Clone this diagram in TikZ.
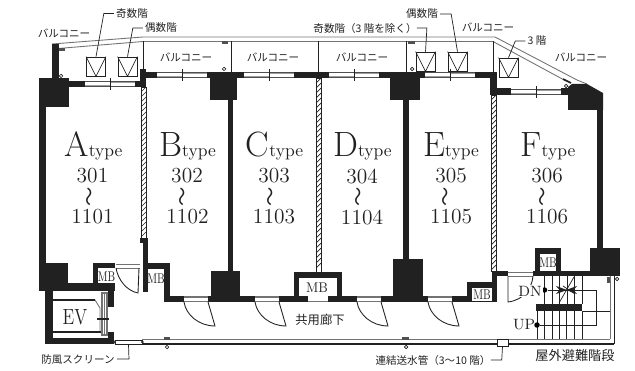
\documentclass[tikz,border=0pt]{standalone}
\usepackage{fontspec}
\usepackage{xcolor}
\usepackage{tikz}
\usetikzlibrary{arrows.meta, positioning}
\newfontfamily\jpfont{Noto Sans CJK JP}
\definecolor{wallblack}{gray}{0.13}
\definecolor{linegray}{gray}{0.45}

\begin{document}
\begin{tikzpicture}[
    x=0.02cm, y=-0.02cm,
    thinline/.style={draw=wallblack, line width=0.4pt},
    grayline/.style={draw=linegray, line width=0.5pt},
    jp/.style={font=\jpfont\fontsize{6}{7}\selectfont, text=wallblack, inner sep=0pt},
    jpmid/.style={font=\jpfont\fontsize{7}{8}\selectfont, text=wallblack, inner sep=0pt},
    jpbig/.style={font=\jpfont\fontsize{7.5}{9}\selectfont, text=wallblack, inner sep=0pt},
    unitname/.style={font=\fontsize{20}{22}\selectfont, text=wallblack, inner sep=0pt, anchor=base},
    roomno/.style={font=\fontsize{12.2}{14}\selectfont, text=wallblack, inner sep=0pt},
    wavemark/.style={font=\jpfont\fontsize{11}{11}\selectfont, text=wallblack, inner sep=0pt, rotate=90},
    mbtext/.style={font=\fontsize{8}{9}\selectfont, text=wallblack, inner sep=0pt, xscale=0.72, transform shape},
    acunit/.style={rectangle, thinline, minimum size=0.38cm, inner sep=0pt},
    smallcircle/.style={circle, draw=wallblack, line width=0.4pt, minimum size=0.07cm, inner sep=0pt},
    blackdot/.style={circle, fill=black, minimum size=0.11cm, inner sep=0pt}
]
\useasboundingbox (0,0) rectangle (635,371);

% Balcony outline
\draw[grayline] (52,44) -- (143,37) -- (495,37) -- (577,80) -- (587,84);
\draw[grayline] (52,49) -- (143,41.5) -- (493,41.5) -- (566,81);
\foreach \x/\y in {143/70, 231/72, 318/72, 406/72, 493/72}
    \draw[thinline] (\x,41.5) -- (\x,\y);

% Walls
\foreach \xa/\ya/\xb/\yb in {52/44/59/78, 39/78/69/107, 39/107/46/263, 39/263/68/291,
    45/291/53/344, 45/338/114/344, 68/283/115/291, 108/291/114/307, 108/332/114/340,
    69/81/85/87, 135/81/143/87, 140/69/146/87, 146/72/157/78, 207/72/244/78,
    210/72/237/100, 294/72/329/78, 378/72/425/78, 390/72/420/100, 475/72/497/78,
    490/72/497/95, 490/88/511/95, 561/88/568/95, 597/110/603/248,
    228/100/233/271, 403/100/409/259,
    140/238/148/243, 143/243/148/292,
    93/263/115/268, 93/263/98/291,
    143/263/170/269, 164/263/170/302,
    164/296/184/302, 208/296/255/302, 211/271/240/302, 279/296/308/302,
    294/272/342/278, 294/272/299/296, 337/272/342/302, 328/296/357/302,
    381/296/428/302, 393/259/423/302, 452/296/472/302,
    467/282/497/288, 467/282/472/302, 492/271/497/302, 467/300.5/497/302,
    497/271/508/276, 533/271/590/276, 535/248/561/254, 535/248/540/276,
    556/248/561/276, 590/248/620/276}
    \fill[wallblack] (\xa,\ya) rectangle (\xb,\yb);
\fill[wallblack] (568,87) -- (572,84) -- (587,84) -- (603,93) -- (603,110) -- (568,110) -- cycle;

% Hatched walls
\foreach \xa/\ya/\xb/\yb in {141/87/146/238, 316/78/321/272, 491/95/496/271} {
    \draw[thinline] (\xa,\ya) rectangle (\xb,\yb);
    \pgfmathsetmacro{\ylast}{\yb-5}
    \pgfmathsetmacro{\ysecond}{\ya+5}
    \foreach \y in {\ya,\ysecond,...,\ylast}
        \draw[thinline] (\xa,\y+5) -- (\xb,\y);
}

% Windows on the balcony side
\foreach \x/\y in {85/81, 157/72, 244/72, 329/72, 425/72, 511/89} {
    \fill[white] (\x,\y) rectangle ++(50,6);
    \fill[wallblack!80] (\x,\y) rectangle ++(50,0.9);
    \fill[wallblack!80] (\x,\y+5.1) rectangle ++(50,0.9);
    \fill[linegray!70] (\x,\y+3.6) rectangle ++(25,1.6);
    \fill[linegray!70] (\x+25,\y+0.8) rectangle ++(25,1.6);
    \draw[wallblack, line width=0.5pt] (\x+25,\y-3) -- ++(0,12);
}

% Door openings in the corridor wall
\foreach \x in {184, 255, 357, 428}
    \draw[grayline, line width=0.9pt] (\x,297) -- ++(24,0) (\x,301.5) -- ++(24,0);
\draw[grayline, line width=0.9pt] (308,301.5) -- (328,301.5);
\draw[grayline] (116,264) -- (140,264) (116,268) -- (140,268);
\draw[grayline] (508,272) -- (533,272) (508,276) -- (533,276);

% Doors
\foreach \x in {184, 255, 357, 428}
    \draw[thinline, line width=0.5pt] (\x,302) .. controls (\x+2,315) and (\x+15,326) .. (\x+31,326) -- (\x+24,302);
\draw[thinline, line width=0.5pt] (116,268) .. controls (118,280) and (127,291) .. (138,293) -- (139,268);
\draw[thinline, line width=0.5pt] (533,276) .. controls (532,288) and (524,300) .. (508,302) -- (508,276);

% EV
\draw[grayline] (53,300) -- (95,300) -- (100,308) -- (100,332) -- (53,332);
\draw[thinline, line width=0.7pt] (53,300) -- (95,300) (53,332) -- (102,332);
\draw[grayline, fill=white, line width=0.7pt] (102,293) rectangle (107,335);
\fill[linegray] (103.5,293) rectangle (105,335);
\draw[thinline, line width=0.7pt] (97,319) -- (109,319);
\node[font=\fontsize{12.5}{14}\selectfont, text=wallblack, inner sep=0pt, xscale=0.8, transform shape] (ev) at (75,317) {EV};

% Stairs
\foreach \x in {544, 552, 559, 567, 574, 582}
    \draw[wallblack, line width=0.5pt] (\x,276) -- (\x,304);
\foreach \x in {537, 544, 552, 559, 566, 574, 582}
    \draw[wallblack, line width=0.5pt] (\x,311) -- (\x,339);
\fill[wallblack] (536,304) rectangle (582,311);

% Outer walkway
\draw[grayline] (142,339) -- (610,339);
\draw[wallblack, line width=0.7pt] (115,344) -- (614,344);
\draw[grayline] (610,276) -- (610,339);
\draw[wallblack, line width=0.5pt] (614,276) -- (614,344);
\draw[wallblack, line width=0.5pt] (582,311) -- (610,311);

% Screen and standpipe box
\node[rectangle, draw=wallblack, fill=white, line width=0.4pt, minimum width=0.54cm, minimum height=0.08cm, inner sep=0pt] (screen) at (128.5,342) {};
\node[smallcircle, fill=white, minimum size=0.04cm] (screenl) at (screen.west) {};
\node[smallcircle, fill=white, minimum size=0.04cm] (screenr) at (screen.east) {};
\node[rectangle, draw=wallblack, fill=white, line width=0.5pt, minimum width=0.22cm, minimum height=0.14cm, inner sep=0pt] (pipebox) at (502.5,342.5) {};

% Small pipe shafts and drains
\foreach \x/\y in {62/49.5, 225/42.5, 411.5/42.5, 167/338.5, 405.5/338.5}
    \fill[linegray!70!black] (\x-3.3,\y-1.6) rectangle (\x+3.3,\y+1.6);
\fill[linegray!70!black] (607,277) rectangle (610,283);
\draw[wallblack, line width=0.9pt] (563,79) -- (571,83);
\foreach \x/\y in {61/76, 224/69, 412/69, 566/86, 617/279, 167/347, 406/347}
    \node[smallcircle] at (\x,\y) {};

% Outdoor units
\node[acunit] (ac1) at (96,66.5) {};
\node[acunit] (ac2) at (127.5,66.5) {};
\node[acunit] (ac3) at (425.5,61.5) {};
\node[acunit] (ac4) at (457.5,61.5) {};
\node[acunit] (ac5) at (508.5,67.5) {};
\foreach \n in {ac1, ac2, ac3, ac4, ac5}
    \draw[thinline] (\n.north west) -- (\n.south) -- (\n.north east);

% Unit names and room numbers
\foreach \n/\l/\x in {1/A/93.5, 2/B/187.5, 3/C/274.5, 4/D/362.5, 5/E/451, 6/F/548}
    \node[unitname] (type\n) at (\x,157) {\l{\fontsize{10}{11}\selectfont type}};
\foreach \n/\x/\w/\y in {1/92.5/92/301, 2/187/185/302, 3/274/273/303, 4/362/361/304, 5/451/448/305, 6/547/545/306} {
    \node[roomno] (low\n) at (\x,176) {\y};
    \node[wavemark] (wave\n) at (\w,196.5) {〜};
}
\foreach \n/\x/\y in {1/92.5/1101, 2/187.5/1102, 3/274/1103, 4/362/1104, 5/451/1105, 6/547/1106}
    \node[roomno] (high\n) at (\x,217) {\y};

% MB labels
\node[mbtext] (mb1) at (106.5,277) {MB};
\node[mbtext] (mb2) at (156,279) {MB};
\node[mbtext, xscale=1.25] (mb3) at (317,288) {MB};
\node[mbtext] (mb4) at (482,295) {MB};
\node[mbtext] (mb5) at (548,263) {MB};

% Stair marks
\node[blackdot] (dndot) at (544.5,290) {};
\node[blackdot] (updot) at (537,325) {};
\coordinate (railtop) at (596,290);
\coordinate (railbot) at (596,325);
\draw[wallblack, line width=0.5pt] (dndot) -- (railtop) -- (railbot) -- (updot);
\draw[-{Stealth[length=2.2mm,width=1.6mm]}, wallblack, line width=0.5pt] (dndot) -- (567,290);
\draw[-{Stealth[length=2.2mm,width=1.6mm]}, wallblack, line width=0.5pt] (580,290) -- (566,290);
\draw[wallblack, line width=0.4pt] (559,303) -- (574,277);
\draw[wallblack, line width=0.4pt] (563,286) -- (575,294);
\node[font=\fontsize{8.5}{10}\selectfont, text=wallblack, fill=white, inner sep=0.5pt] (dn) at (530,291) {DN};
\node[font=\fontsize{8.5}{10}\selectfont, text=wallblack, inner sep=0pt] (up) at (524,325) {UP};

% Balcony labels
\node[jp] (balc1) at (64,33) {バルコニー};
\node[jp] (balc2) at (186,57) {バルコニー};
\node[jp] (balc3) at (273,57) {バルコニー};
\node[jp] (balc4) at (362,57) {バルコニー};
\node[jp] (balc5) at (488,27) {バルコニー};
\node[jp] (balc6) at (581,57) {バルコニー};

% Unit labels with leaders
\node[jp] (odd1) at (132,13.5) {奇数階};
\node[jp] (even1) at (161,28) {偶数階};
\node[jp] (odd2) at (365,28) {奇数階（3 階を除く）};
\node[jp] (even2) at (422,14) {偶数階};
\node[jp] (third) at (537,41) {3 階};
\draw[thinline] (odd1.west) ++(-2,0) -- ++(-10,0) -- (ac1.north);
\draw[thinline] (even1.west) ++(-2,0) -- ++(-10,0) -- (ac2.north);
\draw[thinline] (odd2.east) -- ++(10,0) -- (ac3.north);
\draw[thinline] (even2.east) ++(2,0) -- ++(11,0) -- (ac4.north);
\draw[thinline] (third.west) ++(-2,0) -- ++(-10,0) -- (ac5.north);

% Bottom labels
\node[jp] (scrlabel) at (78,359) {防風スクリーン};
\node[jp] (pipelabel) at (433,360) {連結送水管（3〜10 階）};
\node[jpbig] (stairlabel) at (575,356) {屋外避難階段};
\node[jpmid] (corridor) at (320,320) {共用廊下};
\draw[thinline] (scrlabel.east) ++(2,0) -- ++(12,0) -- (screen.south);
\draw[thinline] (pipelabel.east) -- ++(11,0) -- (pipebox.south);
\end{tikzpicture}
\end{document}
